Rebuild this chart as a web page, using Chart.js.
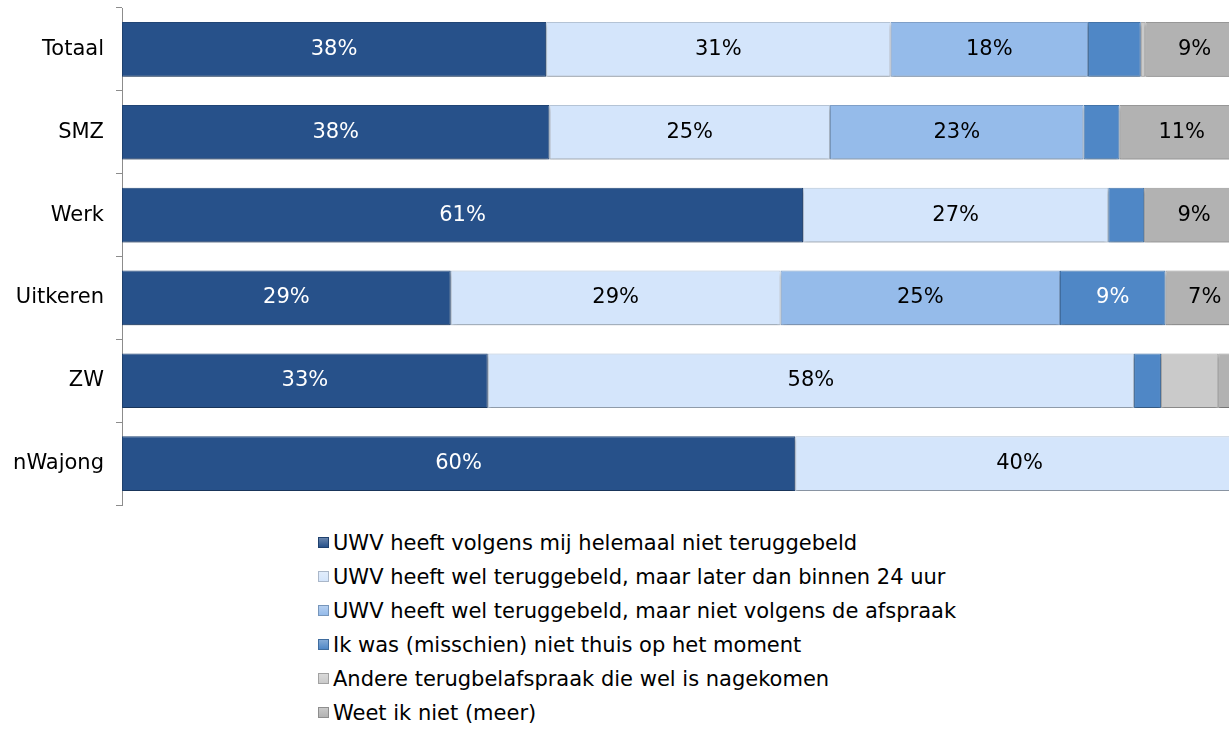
<!DOCTYPE html>
<html>
<head>
<meta charset="utf-8">
<script src="https://cdn.jsdelivr.net/npm/chart.js@4"></script>
<style>
  html, body { margin: 0; padding: 0; background: #fff; overflow: hidden; }
  #wrap { position: relative; width: 1244px; height: 730px; }
  #chartBox { position: absolute; left: 0; top: 0; width: 1244px; height: 512px; }
  #legend { position: absolute; left: 318px; top: 526px; margin: 0; padding: 0; list-style: none;
    font-family: "DejaVu Sans", Verdana, sans-serif; font-size: 21px; color: #000; }
  #legend li { height: 34px; line-height: 34px; white-space: nowrap; }
  #legend span.box { display: inline-block; width: 9px; height: 9px; margin-right: 4px; vertical-align: 2px; }
</style>
</head>
<body>
<div id="wrap">
  <div id="chartBox"><canvas id="canvas"></canvas></div>
  <ul id="legend"></ul>
</div>
<script>
var groups = ['Totaal', 'SMZ', 'Werk', 'Uitkeren', 'ZW', 'nWajong'];
var seriesNames = [
  'UWV heeft volgens mij helemaal niet teruggebeld',
  'UWV heeft wel teruggebeld, maar later dan binnen 24 uur',
  'UWV heeft wel teruggebeld, maar niet volgens de afspraak',
  'Ik was (misschien) niet thuis op het moment',
  'Andere terugbelafspraak die wel is nagekomen',
  'Weet ik niet (meer)'
];
var nietTeruggebeld = [37.8, 38.1, 60.7, 29.3, 32.6, 60.0];
var laterDan24 = [30.7, 25.0, 27.2, 29.4, 57.6, 40.0];
var nietVolgensAfspraak = [17.6, 22.6, 0, 24.9, 0, 0];
var nietThuis = [4.7, 3.2, 3.2, 9.4, 2.4, 0];
var andereAfspraak = [0.4, 0, 0, 0, 5.1, 0];
var weetNiet = [8.8, 11.1, 8.9, 7.0, 2.3, 0];
var colors = ['#27518a', '#d4e5fb', '#95bbea', '#4f87c6', '#cacaca', '#b2b2b2'];
var labelColors = ['#ffffff', '#000000', '#000000', '#ffffff', '#000000', '#000000'];

var allSeries = [nietTeruggebeld, laterDan24, nietVolgensAfspraak, nietThuis, andereAfspraak, weetNiet];
var FONT = '"DejaVu Sans", Verdana, sans-serif';

// lighter top edge / darker bottom, a rough take on the bevelled look
function shade(hex, amt) {
  var n = parseInt(hex.slice(1), 16);
  var r = (n >> 16) & 255, g = (n >> 8) & 255, b = n & 255;
  function f(c) { return Math.max(0, Math.min(255, Math.round(amt > 0 ? c + (255 - c) * amt : c * (1 + amt)))); }
  return 'rgb(' + f(r) + ',' + f(g) + ',' + f(b) + ')';
}
function bevel(i) {
  return function(ctx) {
    var el = ctx.element;
    if (!el || el.y === undefined || !el.height) return colors[i];
    var top = el.y - el.height / 2, bot = el.y + el.height / 2;
    var g = ctx.chart.ctx.createLinearGradient(0, top, 0, bot);
    g.addColorStop(0, shade(colors[i], 0.4));
    g.addColorStop(0.08, colors[i]);
    g.addColorStop(0.92, colors[i]);
    g.addColorStop(1, shade(colors[i], -0.2));
    return g;
  };
}

var datasets = allSeries.map(function(d, i) {
  return {
    label: seriesNames[i],
    data: d,
    backgroundColor: bevel(i),
    borderColor: shade(colors[i], -0.15),
    borderWidth: 1,
    borderSkipped: false,
    barPercentage: 0.66,
    categoryPercentage: 1.0
  };
});

var valueLabels = {
  id: 'valueLabels',
  beforeDatasetsDraw: function(chart) {
    var c = chart.ctx;
    c.save();
    c.shadowColor = 'rgba(0,0,0,0.25)';
    c.shadowOffsetY = 3;
    c.shadowBlur = 3;
  },
  afterDatasetsDraw: function(chart) {
    var c = chart.ctx;
    c.restore();
    c.save();
    c.font = '21px ' + FONT;
    c.textAlign = 'center';
    c.textBaseline = 'middle';
    chart.data.datasets.forEach(function(ds, i) {
      chart.getDatasetMeta(i).data.forEach(function(bar, j) {
        var v = ds.data[j];
        if (v < 6) return;
        c.fillStyle = labelColors[i];
        c.fillText(Math.round(v) + '%', (bar.x + bar.base) / 2, bar.y);
      });
    });
    c.restore();
  }
};

window.onload = function() {
  var chart = new Chart(document.getElementById('canvas').getContext('2d'), {
    type: 'bar',
    data: { labels: groups, datasets: datasets },
    plugins: [valueLabels],
    options: {
      indexAxis: 'y',
      responsive: true,
      maintainAspectRatio: false,
      animation: false,
      layout: { padding: { top: 8, right: 0, bottom: 7, left: 0 } },
      plugins: {
        legend: { display: false },
        tooltip: { enabled: false }
      },
      scales: {
        x: {
          stacked: true,
          min: 0,
          max: 100,
          display: false
        },
        y: {
          stacked: true,
          afterFit: function(s) { s.width = 122; s.paddingTop = 0; s.paddingBottom = 0; },
          border: { display: true, color: '#8c8c8c', width: 1 },
          grid: { offset: true, drawOnChartArea: false, tickLength: 6, color: '#8c8c8c' },
          ticks: {
            color: '#000',
            padding: 12,
            font: { family: FONT, size: 21 }
          }
        }
      }
    }
  });

  var ul = document.getElementById('legend');
  chart.data.datasets.forEach(function(ds, i) {
    var li = document.createElement('li');
    var box = document.createElement('span');
    box.className = 'box';
    box.style.background = 'linear-gradient(' + shade(colors[i], 0.3) + ',' + colors[i] + ')';
    box.style.border = '1px solid ' + shade(colors[i], -0.2);
    li.appendChild(box);
    li.appendChild(document.createTextNode(ds.label));
    ul.appendChild(li);
  });
};
</script>
</body>
</html>
